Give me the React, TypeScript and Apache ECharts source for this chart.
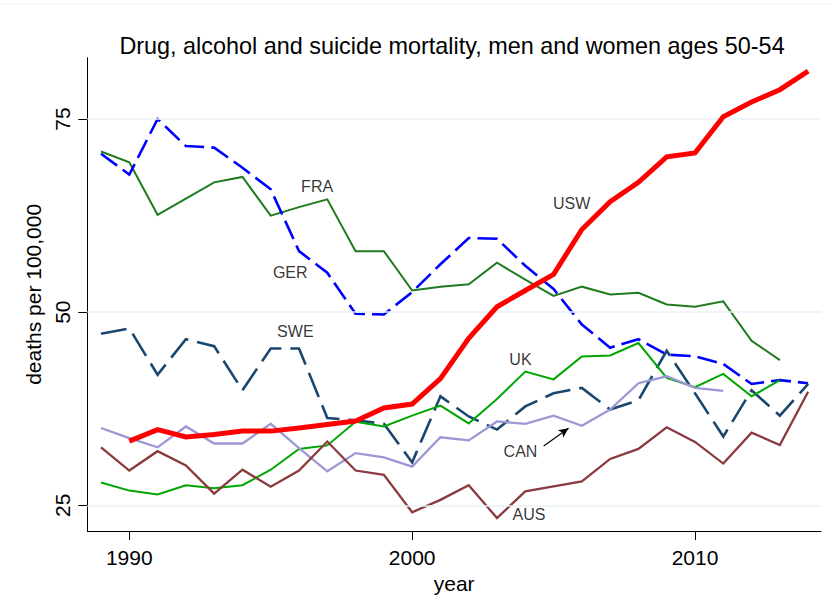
import React, { useEffect, useRef } from "react";
import * as echarts from "echarts";

const years = [1989, 1990, 1991, 1992, 1993, 1994, 1995, 1996, 1997, 1998, 1999, 2000, 2001, 2002, 2003, 2004, 2005, 2006, 2007, 2008, 2009, 2010, 2011, 2012, 2013, 2014];

const USW = [null, 33.3, 34.8, 33.85, 34.15, 34.6, 34.6, 35.0, 35.45, 35.9, 37.6, 38.1, 41.4, 46.6, 50.7, 52.8, 54.9, 60.7, 64.3, 66.8, 70.1, 70.6, 75.3, 77.2, 78.8, 81.2];
const FRA = [70.8, 69.4, 62.6, 64.7, 66.8, 67.5, 62.5, 63.6, 64.6, 57.9, 57.9, 52.8, 53.3, 53.6, 56.4, 54.2, 52.1, 53.3, 52.3, 52.5, 51.0, 50.7, 51.4, 46.3, 43.8, null];
const GER = [70.5, 67.8, 75.0, 71.5, 71.3, 68.7, 65.9, 57.9, 55.1, 49.8, 49.7, 52.6, 56.2, 59.6, 59.5, 56.0, 53.0, 48.4, 45.4, 46.5, 44.5, 44.3, 43.3, 40.7, 41.2, 40.8];
const SWE = [47.2, 47.9, 41.9, 46.5, 45.6, 39.9, 45.3, 45.3, 36.3, 36.0, 35.55, 30.55, 39.1, 36.5, 34.8, 37.8, 39.5, 40.2, 37.4, 38.6, 45.0, 39.5, 33.9, 39.9, 36.6, 40.7];
const UK = [27.95, 26.9, 26.4, 27.6, 27.2, 27.6, 29.6, 32.3, 32.75, 35.8, 35.2, 36.6, 37.9, 35.6, 38.75, 42.3, 41.3, 44.25, 44.4, 46.0, 41.5, 40.3, 42.0, 39.1, 41.2, null];
const CAN = [35.0, 33.7, 32.5, 35.2, 33.0, 33.0, 35.55, 32.4, 29.4, 31.75, 31.2, 30.0, 33.8, 33.4, 35.85, 35.55, 36.6, 35.3, 37.4, 40.8, 41.7, 40.2, 39.8, null, null, null];
const AUS = [32.5, 29.5, 32.0, 30.15, 26.5, 29.6, 27.4, 29.5, 33.25, 29.5, 28.95, 24.1, 25.7, 27.6, 23.35, 26.8, 27.45, 28.1, 31.0, 32.3, 35.1, 33.2, 30.4, 34.4, 32.8, 39.7];

const xTicks = [1990, 2000, 2010];
const yTicks = [25, 50, 75];

const labelNames = ["FRA", "GER", "SWE", "USW", "UK", "CAN", "AUS"];
const labelYears = [1996.64, 1995.69, 1995.87, 2005.64, 2003.83, 2003.83, 2004.13];
const labelValues = [66.33, 55.09, 47.47, 64.12, 43.87, 31.96, 23.78];

const arrowFrom = [2004.65, 32.68];
const arrowTo = [2005.53, 34.97];

const FONT = "'Liberation Sans', Arial, Helvetica, sans-serif";

function pairs(vals: (number | null)[]) {
  return years.map((y, i) => [y, vals[i] === null ? null : vals[i]]).filter((p) => p[1] !== null);
}

export default function App() {
  const ref = useRef<HTMLDivElement>(null);
  useEffect(() => {
    if (!ref.current) return;
    const chart = echarts.init(ref.current, null, { renderer: "svg" });
    const mk = (name: string, data: (number | null)[], color: string, width: number, dash?: number[], z = 3) => ({
      name,
      type: "line",
      data: pairs(data),
      showSymbol: false,
      symbol: "none",
      z,
      lineStyle: { color, width, type: dash ? dash : "solid", cap: "butt", join: "miter" },
      silent: true,
    });
    chart.setOption({
      animation: false,
      backgroundColor: "#ffffff",
      textStyle: { fontFamily: FONT },
      title: {
        text: "Drug, alcohol and suicide mortality, men and women ages 50-54",
        left: 447,
        textAlign: "center",
        top: 29,
        textStyle: { fontFamily: FONT, fontSize: 23.4, fontWeight: "normal", color: "#000" },
      },
      graphic: [
        { type: "line", shape: { x1: 0, y1: 4, x2: 832, y2: 4 }, style: { stroke: "#edf2f5", lineWidth: 1 } },
      ],
      grid: { left: 87.3, right: 11, top: 57.7, bottom: 80, containLabel: false },
      xAxis: {
        type: "value",
        min: 1988.515,
        max: 2014.455,
        name: "year",
        nameLocation: "middle",
        nameGap: 40,
        nameTextStyle: { fontFamily: FONT, fontSize: 21, color: "#000" },
        axisLine: { show: true, lineStyle: { color: "#000", width: 1 } },
        axisTick: { show: true, length: 9, customValues: xTicks, lineStyle: { color: "#000", width: 1 } },
        axisLabel: {
          customValues: xTicks,
          formatter: (v: number) => String(Math.round(v)),
          fontFamily: FONT,
          fontSize: 21,
          color: "#000",
          margin: 16,
        },
        splitLine: { show: false },
      },
      yAxis: {
        type: "value",
        min: 21.67,
        max: 82.94,
        name: "deaths per 100,000",
        nameLocation: "middle",
        nameGap: 37,
        nameRotate: 90,
        nameTextStyle: { fontFamily: FONT, fontSize: 21, color: "#000" },
        axisLine: { show: true, lineStyle: { color: "#000", width: 1 } },
        axisTick: { show: true, length: 9, customValues: yTicks, lineStyle: { color: "#000", width: 1 } },
        axisLabel: {
          customValues: yTicks,
          formatter: (v: number) => String(Math.round(v)),
          rotate: 90,
          fontFamily: FONT,
          fontSize: 21,
          color: "#000",
          margin: 14,
        },
        splitLine: { show: false },
      },
      series: [
        {
          name: "grid",
          type: "line",
          data: [[1990, 50]],
          showSymbol: false,
          lineStyle: { opacity: 0 },
          z: 1,
          silent: true,
          markLine: {
            silent: true,
            symbol: ["none", "none"],
            label: { show: false },
            lineStyle: { color: "#e9f0f4", width: 1.5, type: "solid" },
            data: yTicks.map((v) => ({ yAxis: v })),
          },
        },
        mk("FRA", FRA, "#1e7b1e", 2),
        mk("GER", GER, "#0000ff", 2.6, [20, 7]),
        mk("SWE", SWE, "#1a476f", 2.6, [26, 9]),
        mk("UK", UK, "#00a600", 2),
        mk("CAN", CAN, "#9d97d6", 2.3),
        mk("AUS", AUS, "#8b3a3f", 2.3),
        mk("USW", USW, "#ff0000", 5, undefined, 5),
        {
          name: "labels",
          type: "scatter",
          symbolSize: 0,
          z: 6,
          silent: true,
          data: labelNames.map((n, i) => ({ name: n, value: [labelYears[i], labelValues[i]] })),
          label: {
            show: true,
            position: "inside",
            formatter: "{b}",
            fontFamily: FONT,
            fontSize: 16,
            color: "#000",
          },
          markLine: {
            silent: true,
            symbol: ["none", "arrow"],
            symbolSize: [7, 10],
            label: { show: false },
            lineStyle: { color: "#000", width: 1.2, type: "solid" },
            data: [[{ coord: arrowFrom }, { coord: arrowTo }]],
          },
        },
      ],
    });
    return () => chart.dispose();
  }, []);
  return <div ref={ref} style={{ position: "fixed", left: 0, top: 0, width: 832, height: 611 }} />;
}
